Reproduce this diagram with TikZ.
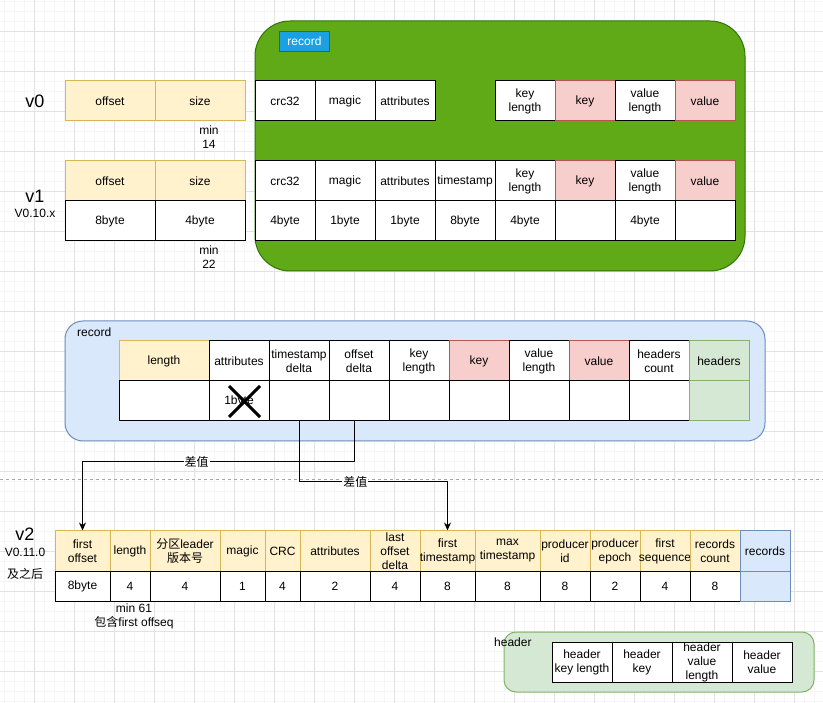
\documentclass[tikz,border=0pt]{standalone}
\usepackage{fontspec}
\setmainfont{Liberation Sans}
\newfontfamily\cjk{Noto Sans CJK SC}
\usetikzlibrary{arrows.meta}
\definecolor{hdrFill}{HTML}{FFF2CC}
\definecolor{hdrLine}{HTML}{D6B656}
\definecolor{pinkFill}{HTML}{F8CECC}
\definecolor{pinkLine}{HTML}{B85450}
\definecolor{greenFill}{HTML}{D5E8D4}
\definecolor{greenLine}{HTML}{82B366}
\definecolor{blueFill}{HTML}{DAE8FC}
\definecolor{blueLine}{HTML}{6C8EBF}
\definecolor{recGreen}{HTML}{60A917}
\definecolor{recGreenLine}{HTML}{2D7600}
\definecolor{tagBlue}{HTML}{1BA1E2}
\definecolor{tagBlueLine}{HTML}{006EAF}
\definecolor{gridMinor}{RGB}{246,246,246}
\definecolor{gridMajor}{RGB}{226,226,226}

\begin{document}
\begin{tikzpicture}[x=1pt, y=-1pt, font=\fontsize{12}{14}\selectfont,
    cell/.style={draw=black, fill=white, line width=1pt, minimum width=60pt,
      minimum height=40pt, inner sep=0pt, align=center},
    hdr/.style={cell, draw=hdrLine, fill=hdrFill},
    pinkcell/.style={cell, draw=pinkLine, fill=pinkFill},
    greencell/.style={cell, draw=greenLine, fill=greenFill},
    bluecell/.style={cell, draw=blueLine, fill=blueFill},
    val/.style={cell, minimum height=30pt},
    big/.style={font=\fontsize{18}{21}\selectfont},
    conn/.style={draw=black, line width=1pt, -{Stealth[length=8pt, width=7pt]}},
    lbl/.style={fill=white, inner sep=1pt}]
        % Background and grid
        \fill[white] (0,0) rectangle (823,703);
        \useasboundingbox (0,0) rectangle (823,703);
        \foreach \x in {4.5,14.5,...,823} \draw[gridMinor, line width=1pt] (\x,0) -- (\x,703);
        \foreach \y in {1.5,11.5,...,703} \draw[gridMinor, line width=1pt] (0,\y) -- (823,\y);
        \foreach \x in {34.5,74.5,...,823} \draw[gridMajor, line width=1pt] (\x,0) -- (\x,703);
        \foreach \y in {31.5,71.5,...,703} \draw[gridMajor, line width=1pt] (0,\y) -- (823,\y);
        % Separator
        \draw[gray!70, line width=1pt, dash pattern=on 3pt off 3pt] (0,480) -- (823,480);

        % v0 / v1 record box
        \node[draw=recGreenLine, fill=recGreen, line width=1pt, rounded corners=35pt,
          minimum width=490pt, minimum height=250pt] (recOld) at (500,146) {};
        \node[draw=tagBlueLine, fill=tagBlue, text=white, line width=1pt,
          minimum width=50pt, minimum height=20pt, inner sep=0pt] (recTag) at (304.5,41.5) {record};

        % v0
        \node[big] (v0name) at (35,101) {v0};
        \node[hdr, minimum width=90pt] (v0off) at (110,101) {offset};
        \node[hdr, minimum width=90pt] (v0size) at (200,101) {size};
        \node[cell] (v0crc) at (285,101) {crc32};
        \node[cell] (v0magic) at (345,101) {magic};
        \node[cell] (v0attr) at (405,101) {attributes};
        \node[cell] (v0klen) at (525,101) {key\\length};
        \node[pinkcell] (v0key) at (585,101) {key};
        \node[cell] (v0vlen) at (645,101) {value\\length};
        \node[pinkcell] (v0val) at (705,101) {value};
        \node[align=center] (v0min) at (209,137) {min\\14};

        % v1
        \node[big] (v1name) at (35,196) {v1};
        \node (v1ver) at (35,213) {V0.10.x};
        \node[hdr, minimum width=90pt] (v1off) at (110,181) {offset};
        \node[hdr, minimum width=90pt] (v1size) at (200,181) {size};
        \node[cell] (v1crc) at (285,181) {crc32};
        \node[cell] (v1magic) at (345,181) {magic};
        \node[cell] (v1attr) at (405,181) {attributes};
        \node[cell] (v1ts) at (465,181) {timestamp};
        \node[cell] (v1klen) at (525,181) {key\\length};
        \node[pinkcell] (v1key) at (585,181) {key};
        \node[cell] (v1vlen) at (645,181) {value\\length};
        \node[pinkcell] (v1val) at (705,181) {value};
        \node[cell, minimum width=90pt] (v1offB) at (110,221) {8byte};
        \node[cell, minimum width=90pt] (v1sizeB) at (200,221) {4byte};
        \node[cell] (v1crcB) at (285,221) {4byte};
        \node[cell] (v1magicB) at (345,221) {1byte};
        \node[cell] (v1attrB) at (405,221) {1byte};
        \node[cell] (v1tsB) at (465,221) {8byte};
        \node[cell] (v1klenB) at (525,221) {4byte};
        \node[cell] (v1keyB) at (585,221) {};
        \node[cell] (v1vlenB) at (645,221) {4byte};
        \node[cell] (v1valB) at (705,221) {};
        \node[align=center] (v1min) at (209,257) {min\\22};

        % v2 record
        \node[draw=blueLine, fill=blueFill, line width=1pt, rounded corners=18pt,
          minimum width=700pt, minimum height=120pt] (recNew) at (415,381) {};
        \node[anchor=west, inner sep=0pt] (recNewTag) at (77,332) {record};
        \node[hdr, minimum width=90pt] (rLen) at (164,361) {length};
        \node[cell] (rAttr) at (239,361) {attributes};
        \node[cell] (rTsd) at (299,361) {timestamp\\delta};
        \node[cell] (rOfd) at (359,361) {offset\\delta};
        \node[cell] (rKlen) at (419,361) {key\\length};
        \node[pinkcell] (rKey) at (479,361) {key};
        \node[cell] (rVlen) at (539,361) {value\\length};
        \node[pinkcell] (rVal) at (599,361) {value};
        \node[cell] (rHcnt) at (659,361) {headers\\count};
        \node[greencell] (rHdr) at (719,361) {headers};
        \node[cell, minimum width=90pt] (rLenB) at (164,401) {};
        \node[cell] (rAttrB) at (239,401) {1byte};
        \node[cell] (rTsdB) at (299,401) {};
        \node[cell] (rOfdB) at (359,401) {};
        \node[cell] (rKlenB) at (419,401) {};
        \node[cell] (rKeyB) at (479,401) {};
        \node[cell] (rVlenB) at (539,401) {};
        \node[cell] (rValB) at (599,401) {};
        \node[cell] (rHcntB) at (659,401) {};
        \node[greencell] (rHdrB) at (719,401) {};
        % crossed out
        \draw[line width=3pt] ([shift={(-10,-15)}]rAttrB.center) -- ([shift={(21,16)}]rAttrB.center);
        \draw[line width=3pt] ([shift={(-10,16)}]rAttrB.center) -- ([shift={(21,-15)}]rAttrB.center);

        % v2
        \node[big] (v2name) at (25,534) {v2};
        \node (v2ver) at (25,552) {V0.11.0};
        \node (v2after) at (25,574) {\cjk 及之后};
        \node[hdr, minimum width=55pt] (bFo) at (82.5,551) {first\\offset};
        \node[hdr, minimum width=40pt] (bLen) at (130,551) {length};
        \node[hdr, minimum width=70pt] (bEpoch) at (185,551) {{\cjk 分区}leader\\{\cjk 版本号}};
        \node[hdr, minimum width=45pt] (bMagic) at (242.5,551) {magic};
        \node[hdr, minimum width=35pt] (bCrc) at (282.5,551) {CRC};
        \node[hdr, minimum width=70pt] (bAttr) at (335,551) {attributes};
        \node[hdr, minimum width=50pt] (bLod) at (395,551) {last\\offset\\delta};
        \node[hdr, minimum width=55pt] (bFts) at (447.5,551) {first\\\makebox[0pt]{timestamp}};
        \node[hdr, minimum width=65pt] (bMts) at (507.5,551) {max\\timestamp};
        \node[hdr, minimum width=50pt] (bPid) at (565,551) {producer\\id};
        \node[hdr, minimum width=50pt] (bPep) at (615,551) {producer\\epoch};
        \node[hdr, minimum width=50pt] (bFseq) at (665,551) {first\\\makebox[0pt]{sequence}};
        \node[hdr, minimum width=50pt] (bRc) at (715,551) {records\\count};
        \node[bluecell, minimum width=50pt] (bRecs) at (765,551) {records};
        \node[val, minimum width=55pt] (bFoB) at (82.5,586) {8byte};
        \node[val, minimum width=40pt] (bLenB) at (130,586) {4};
        \node[val, minimum width=70pt] (bEpochB) at (185,586) {4};
        \node[val, minimum width=45pt] (bMagicB) at (242.5,586) {1};
        \node[val, minimum width=35pt] (bCrcB) at (282.5,586) {4};
        \node[val, minimum width=70pt] (bAttrB) at (335,586) {2};
        \node[val, minimum width=50pt] (bLodB) at (395,586) {4};
        \node[val, minimum width=55pt] (bFtsB) at (447.5,586) {8};
        \node[val, minimum width=65pt] (bMtsB) at (507.5,586) {8};
        \node[val, minimum width=50pt] (bPidB) at (565,586) {8};
        \node[val, minimum width=50pt] (bPepB) at (615,586) {2};
        \node[val, minimum width=50pt] (bFseqB) at (665,586) {4};
        \node[val, minimum width=50pt] (bRcB) at (715,586) {8};
        \node[bluecell, minimum height=30pt, minimum width=50pt] (bRecsB) at (765,586) {};
        \node[align=center] (v2min) at (134,616) {min 61\\{\cjk 包含}first offseq};

        % header
        \node[draw=greenLine, fill=greenFill, line width=1pt, rounded corners=12pt,
          minimum width=310pt, minimum height=60pt] (hdrBox) at (659,662) {};
        \node[anchor=west, inner sep=0pt] (hdrTag) at (494,642) {header};
        \node[cell] (hKlen) at (582,662) {header\\key length};
        \node[cell] (hKey) at (642,662) {header\\key};
        \node[cell] (hVlen) at (702,662) {header\\value\\length};
        \node[cell] (hVal) at (762,662) {header\\value};

        % deltas
        \draw[conn] ([xshift=-5pt]rOfdB.south) -- ++(0,40) -| node[lbl, pos=0.29] {\cjk 差值} (bFo.north);
        \draw[conn] (rTsdB.south) -- ++(0,60) -| node[lbl, pos=0.19] {\cjk 差值} (bFts.north);
      \end{tikzpicture}
\end{document}
